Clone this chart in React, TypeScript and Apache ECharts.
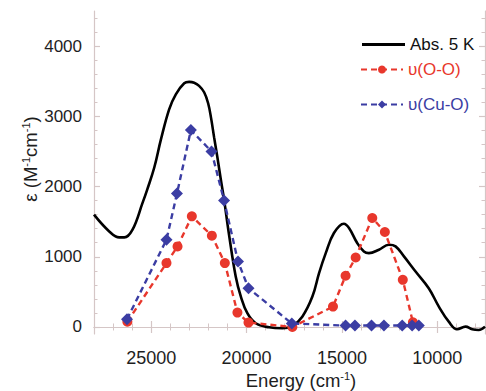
import React, { useEffect, useRef } from "react";
import * as echarts from "echarts";

// Absorption spectrum at 5 K (energy in cm^-1, epsilon in M^-1 cm^-1)
const absEnergy = [28000, 27200, 26675, 26410, 25980, 25455, 25210, 24840, 24490, 24060, 23710, 23270, 23010, 22750, 22490, 22225, 22016, 21859, 21702, 21529, 21351, 21180, 20920, 20570, 20300, 19960, 19520, 18820, 18120, 17600, 17080, 16550, 16200, 15850, 15420, 14900, 14630, 14200, 13850, 13590, 13060, 12540, 12190, 11750, 11140, 10450, 9920, 9400, 8960, 8520, 8170, 7830, 7500];
const absEps = [1600, 1361, 1276, 1276, 1386, 1767, 1957, 2271, 2671, 3100, 3314, 3471, 3490, 3479, 3433, 3343, 3186, 2971, 2700, 2414, 2100, 1814, 1314, 719, 433, 196, 53, -5, -19, 15, 147, 433, 767, 1052, 1338, 1471, 1410, 1195, 1076, 1052, 1100, 1171, 1148, 1005, 790, 552, 290, 76, -33, 5, -33, -43, 5];

// Resonance Raman profile nu(O-O)
const ooEnergy = [26250, 24200, 23620, 22870, 21820, 21140, 20480, 19900, 17600, 15470, 14810, 14280, 13410, 12750, 11810, 11280];
const ooEps = [75, 910, 1147, 1576, 1300, 910, 205, 62, 0, 290, 729, 990, 1552, 1352, 671, 67];

// Resonance Raman profile nu(Cu-O)
const cuoEnergy = [26270, 24200, 23650, 22920, 21840, 21180, 20450, 19900, 17630, 14810, 14320, 13450, 12800, 11840, 11320, 10970];
const cuoEps = [110, 1243, 1900, 2804, 2500, 1800, 933, 552, 50, 20, 20, 20, 20, 20, 20, 20];

const xMajor = [10000, 15000, 20000, 25000];
const xMinor = [8000, 9000, 11000, 12000, 13000, 14000, 16000, 17000, 18000, 19000, 21000, 22000, 23000, 24000, 26000, 27000];
const yMajor = [0, 1000, 2000, 3000, 4000];
const yMinor = [200, 400, 600, 800, 1200, 1400, 1600, 1800, 2200, 2400, 2600, 2800, 3200, 3400, 3600, 3800, 4200, 4400];

const seriesNames = ["Abs. 5 K", "υ(O-O)", "υ(Cu-O)"];

const FRAME = "#d5c6c6";
const RED = "#e8372c";
const BLUE = "#3b3da3";
const FONT = "'Liberation Sans', Arial, Helvetica, sans-serif";

export default function App() {
  const ref = useRef<HTMLDivElement>(null);
  useEffect(() => {
    if (!ref.current) return;
    const chart = echarts.init(ref.current, undefined, { renderer: "svg" });
    const zip = (xs: number[], ys: number[]) => xs.map((x, i) => [x, ys[i]]);
    const plain = (v: number) => String(v);
    const xBase = {
      type: "value" as const,
      min: 7500,
      max: 28000,
      inverse: true,
      splitLine: { show: false },
    };
    const yBase = {
      type: "value" as const,
      min: -100,
      max: 4500,
      splitLine: { show: false },
    };
    const line = { show: true, lineStyle: { color: FRAME, width: 1.2 } };
    const noLine = { show: false };
    const majorTick = (vals: number[]) => ({ show: true, inside: true, length: 6, customValues: vals, lineStyle: { color: FRAME, width: 1.2 } });
    const minorTick = (vals: number[]) => ({ show: true, inside: true, length: 3.5, customValues: vals, lineStyle: { color: FRAME, width: 1 } });
    chart.setOption({
      animation: false,
      backgroundColor: "#ffffff",
      textStyle: { fontFamily: FONT },
      grid: { left: 94, right: 1, top: 11, bottom: 57, containLabel: false },
      xAxis: [
        {
          ...xBase,
          position: "bottom",
          axisLine: line,
          axisTick: majorTick(xMajor),
          axisLabel: { show: true, customValues: xMajor, formatter: plain, fontSize: 18, color: "#1e1e1e", margin: 15, fontFamily: FONT },
        },
        { ...xBase, position: "bottom", axisLine: noLine, axisTick: minorTick(xMinor), axisLabel: { show: false } },
        { ...xBase, position: "top", axisLine: line, axisTick: majorTick(xMajor), axisLabel: { show: false } },
        { ...xBase, position: "top", axisLine: noLine, axisTick: minorTick(xMinor), axisLabel: { show: false } },
      ],
      yAxis: [
        {
          ...yBase,
          position: "left",
          axisLine: line,
          axisTick: majorTick(yMajor),
          axisLabel: { show: true, customValues: yMajor, formatter: plain, fontSize: 17, color: "#1e1e1e", margin: 12, fontFamily: FONT },
        },
        { ...yBase, position: "left", axisLine: noLine, axisTick: minorTick(yMinor), axisLabel: { show: false } },
        { ...yBase, position: "right", axisLine: line, axisTick: majorTick(yMajor), axisLabel: { show: false } },
        { ...yBase, position: "right", axisLine: noLine, axisTick: minorTick(yMinor), axisLabel: { show: false } },
      ],
      legend: [
        {
          data: [{ name: seriesNames[0], icon: "rect" }], left: 357, top: 31, itemWidth: 43, itemHeight: 3, itemGap: 0, selectedMode: false,
          textStyle: { fontSize: 17, color: "#111", fontFamily: FONT },
        },
        {
          data: [seriesNames[1]], left: 355, top: 56, itemWidth: 42, itemHeight: 10, selectedMode: false,
          textStyle: { fontSize: 17, color: RED, fontFamily: FONT },
        },
        {
          data: [seriesNames[2]], left: 355, top: 91, itemWidth: 42, itemHeight: 10, selectedMode: false,
          textStyle: { fontSize: 17, color: BLUE, fontFamily: FONT },
        },
      ],
      series: [
        {
          name: seriesNames[0],
          type: "line",
          data: zip(absEnergy, absEps),
          smooth: 0.4,
          showSymbol: false,
          symbol: "none",
          lineStyle: { color: "#000", width: 2.6 },
          itemStyle: { color: "#000" },
          z: 3,
        },
        {
          name: seriesNames[1],
          type: "line",
          data: zip(ooEnergy, ooEps),
          symbol: "circle",
          symbolSize: 10,
          lineStyle: { color: RED, width: 2.4, type: [6, 4] },
          itemStyle: { color: RED },
          z: 4,
        },
        {
          name: seriesNames[2],
          type: "line",
          data: zip(cuoEnergy, cuoEps),
          symbol: "diamond",
          symbolSize: 12,
          lineStyle: { color: BLUE, width: 2.4, type: [6, 4] },
          itemStyle: { color: BLUE },
          z: 5,
        },
      ],
      graphic: [
        {
          type: "text",
          x: 301,
          y: 380,
          style: {
            text: "Energy (cm{s|-1})",
            fontSize: 18.5,
            fontFamily: FONT,
            fill: "#1e1e1e",
            align: "center",
            verticalAlign: "middle",
            rich: { s: { fontSize: 11, verticalAlign: "top", fill: "#1e1e1e", fontFamily: FONT } },
          },
        },
        {
          type: "text",
          x: 30,
          y: 159,
          rotation: Math.PI / 2,
          style: {
            text: "ε (M{s|-1}cm{s|-1})",
            fontSize: 18.5,
            fontFamily: FONT,
            fill: "#1e1e1e",
            align: "center",
            verticalAlign: "middle",
            rich: { s: { fontSize: 11, verticalAlign: "top", fill: "#1e1e1e", fontFamily: FONT } },
          },
        },
      ],
    });
    return () => chart.dispose();
  }, []);
  return <div ref={ref} style={{ position: "absolute", left: 0, top: 0, width: 486, height: 391 }} />;
}
